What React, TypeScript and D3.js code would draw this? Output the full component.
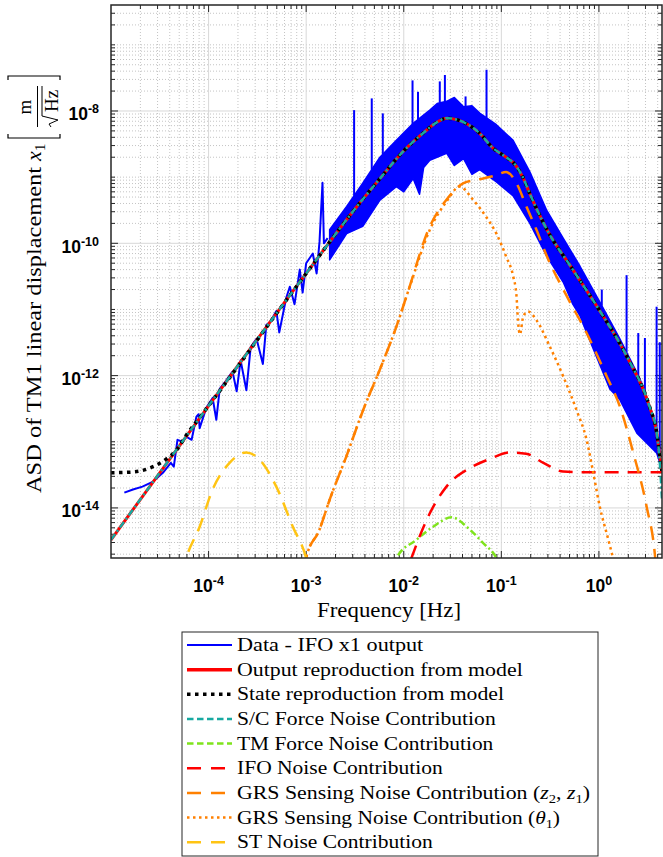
import React from 'react';
import * as d3 from 'd3';

type P = [number, number];

// ---------- axis ticks ----------
const xTickValues = [1e-4, 1e-3, 1e-2, 1e-1, 1];
const xTickExponents = ['-4', '-3', '-2', '-1', '0'];
const yTickValues = [1e-14, 1e-12, 1e-10, 1e-8];
const yTickExponents = ['-14', '-12', '-10', '-8'];

// ---------- data (frequency [Hz], ASD [m/sqrt(Hz)]) ----------
const blueLow: P[] = [
  [1.37e-5, 1.7e-14], [1.68e-5, 1.9e-14], [2.1e-5, 2.1e-14], [2.7e-5, 2.5e-14],
  [3.4e-5, 3.4e-14], [4.1e-5, 4.8e-14], [4.4e-5, 4.2e-14], [4.8e-5, 1.07e-13],
  [5.4e-5, 1.0e-13], [5.9e-5, 1.2e-13], [6.7e-5, 1.07e-13], [7.5e-5, 2.4e-13],
  [7.9e-5, 2.6e-13], [8.1e-5, 1.6e-13], [9.5e-5, 3.3e-13], [1.1e-4, 4.6e-13],
  [1.2e-4, 2.15e-13], [1.3e-4, 6.3e-13], [1.46e-4, 7.8e-13], [1.6e-4, 9.5e-13],
  [1.76e-4, 1.15e-12], [1.94e-4, 5.8e-13], [2.13e-4, 1.7e-12], [2.44e-4, 6.0e-13],
  [2.7e-4, 2.7e-12], [3.1e-4, 3.6e-12], [3.6e-4, 1.5e-12], [3.9e-4, 5.8e-12],
  [4.3e-4, 6.5e-12], [4.95e-4, 9.5e-12], [5.3e-4, 4.5e-12], [6.25e-4, 1.5e-11],
  [6.8e-4, 2.2e-11], [7.6e-4, 1.2e-11], [8.6e-4, 4.0e-11], [9.2e-4, 1.8e-11],
  [1.0e-3, 5.0e-11], [1.17e-3, 7.0e-11], [1.28e-3, 3.5e-11], [1.37e-3, 1.05e-10],
  [1.47e-3, 8.2e-10], [1.52e-3, 1.0e-10], [1.66e-3, 1.2e-10],
];
const blueBandUpper: P[] = [
  [1.74e-3, 1.6e-10], [2.6e-3, 3.6e-10], [3.8e-3, 8.1e-10], [5.7e-3, 2.0e-9],
  [8.4e-3, 3.6e-9], [1.25e-2, 6.5e-9], [1.85e-2, 1.03e-8], [2.2e-2, 1.3e-8],
  [2.75e-2, 1.4e-8], [3.3e-2, 1.6e-8], [4.1e-2, 1.16e-8], [5.0e-2, 1.2e-8],
  [6.0e-2, 9.3e-9], [8.9e-2, 6.2e-9], [0.132, 3.6e-9],
  [0.196, 1.2e-9], [0.29, 3.2e-10], [0.43, 1.2e-10], [0.64, 4.5e-11],
  [1.02, 1.3e-11], [1.64, 3.6e-12], [2.63, 9.0e-13], [3.6, 2.5e-13],
  [4.2, 6.0e-14], [4.43, 3.8e-14],
];
const blueBandLower: P[] = [
  [1.74e-3, 5.6e-11], [2.6e-3, 1.4e-10], [3.8e-3, 1.8e-10], [5.7e-3, 4.5e-10],
  [8.4e-3, 7.2e-10], [1.0e-2, 6.0e-10], [1.25e-2, 9.5e-10], [1.45e-2, 5.5e-10],
  [1.6e-2, 1.4e-9], [1.85e-2, 1.8e-9], [2.75e-2, 2.3e-9], [3.3e-2, 1.5e-9],
  [4.1e-2, 1.9e-9], [5.0e-2, 1.1e-9], [6.0e-2, 1.3e-9], [8.9e-2, 8.5e-10], [0.132, 5.2e-10],
  [0.196, 2.0e-10], [0.29, 6.5e-11], [0.34, 4.5e-11], [0.43, 2.6e-11],
  [0.54, 1.2e-11], [0.64, 8.0e-12], [0.8, 3.5e-12], [1.3, 6.2e-13],
  [1.64, 4.3e-13], [2.45, 1.35e-13], [3.1, 9.5e-14], [3.9, 6.8e-14],
  [4.43, 3.8e-14],
];
const blueSpikes: P[] = [
  [3.1e-3, 1.03e-8], [4.7e-3, 1.55e-8], [6.1e-3, 9.2e-9], [1.23e-2, 2.9e-8],
  [1.4e-2, 1.95e-8], [2.34e-2, 2.8e-8], [2.64e-2, 3.5e-8], [4.3e-2, 1.66e-8],
  [7.05e-2, 4.2e-8], [1.07, 2.0e-11], [1.92, 3.3e-11], [2.53, 4.4e-12],
  [2.96, 3.7e-12], [3.9, 1.1e-11], [4.2, 3.2e-12],
];

const modelCore: P[] = [
  [1e-4, 3.5e-13], [1e-3, 3.5e-11], [3.16e-3, 3.3e-10], [5.7e-3, 9.5e-10],
  [1e-2, 2.5e-9], [1.6e-2, 4.7e-9], [2.2e-2, 6.8e-9], [2.75e-2, 7.8e-9],
  [3.5e-2, 7.4e-9], [4.5e-2, 6.3e-9], [6e-2, 4.6e-9], [8.2e-2, 2.75e-9],
  [0.112, 2.0e-9], [0.138, 1.55e-9], [0.166, 1.0e-9], [0.196, 5.6e-10],
  [0.29, 1.66e-10], [0.54, 4.0e-11], [1.0, 1.0e-11], [1.95, 1.9e-12],
  [3.3, 3.4e-13], [3.9, 1.4e-13],
];
const outputLow: P[] = [[1e-5, 3.3e-15]];
const outputHigh: P[] = [[4.2, 6.1e-14], [4.43, 3.5e-14]];
const stateLow: P[] = [
  [1e-5, 3.4e-14], [1.7e-5, 3.5e-14], [2.7e-5, 4.2e-14], [3.7e-5, 5.5e-14],
  [4.7e-5, 7.5e-14], [6e-5, 1.3e-13], [7.5e-5, 2.0e-13],
];
const scForceHigh: P[] = [[4.2, 5.0e-14], [4.43, 1.3e-14]];

const tmForce: P[] = [
  [7.5e-3, 1.2e-15], [8.4e-3, 1.75e-15], [1.35e-2, 3.3e-15], [2.0e-2, 5.2e-15],
  [3.1e-2, 7.2e-15], [4.75e-2, 4.7e-15], [6.5e-2, 2.95e-15], [8.9e-2, 1.75e-15],
  [0.1, 1.2e-15],
];
const ifoNoise: P[] = [
  [1.0e-2, 8e-16], [1.2e-2, 1.75e-15], [1.85e-2, 8.3e-15], [2.74e-2, 2.1e-14],
  [4.75e-2, 4.0e-14], [7.6e-2, 5.5e-14], [0.122, 6.9e-14], [0.18, 6.6e-14],
  [0.27, 4.8e-14], [0.43, 3.55e-14], [0.7, 3.45e-14], [4.43, 3.45e-14],
];
const grsZ: P[] = [
  [9.5e-4, 1.2e-15], [1.0e-3, 1.75e-15], [1.37e-3, 4.7e-15], [1.74e-3, 1.33e-14],
  [2.58e-3, 6.0e-14], [3.83e-3, 3.0e-13], [5.68e-3, 1.23e-12], [8.4e-3, 5.5e-12],
  [1.07e-2, 1.6e-11], [1.85e-2, 1.8e-10], [2.75e-2, 4.6e-10], [4.1e-2, 8.1e-10],
  [5.6e-2, 9.1e-10], [8.9e-2, 1.07e-9], [0.112, 1.2e-9], [0.143, 8.1e-10],
  [0.182, 3.5e-10], [0.229, 1.6e-10], [0.29, 6.6e-11], [0.467, 1.6e-11],
  [0.748, 4.4e-12], [1.2, 9.8e-13], [1.64, 3.4e-13], [2.25, 6.8e-14],
  [3.08, 1.05e-14], [3.76, 1.86e-15], [3.9, 1.0e-15],
];
const grsTheta: P[] = [
  [9.5e-4, 1.2e-15], [1.0e-3, 1.75e-15], [1.37e-3, 4.7e-15], [1.74e-3, 1.33e-14],
  [2.58e-3, 6.0e-14], [3.83e-3, 3.0e-13], [5.68e-3, 1.23e-12], [8.4e-3, 5.5e-12],
  [1.15e-2, 2.2e-11], [1.85e-2, 1.6e-10], [2.75e-2, 4.3e-10], [3.75e-2, 7.2e-10],
  [5.1e-2, 4.6e-10], [7.0e-2, 2.5e-10], [8.9e-2, 1.4e-10], [0.112, 6.3e-11],
  [0.132, 3.2e-11], [0.143, 1.6e-11], [0.148, 6.9e-12], [0.155, 4.2e-12],
  [0.168, 7.9e-12], [0.188, 9.3e-12], [0.229, 6.9e-12], [0.314, 2.75e-12],
  [0.43, 9.8e-13], [0.59, 3.0e-13], [0.748, 1.07e-13], [0.875, 3.4e-14],
  [1.02, 1.05e-14], [1.25, 3.3e-15], [1.45, 1.4e-15],
];
const stNoise: P[] = [
  [5.3e-5, 1.0e-15], [5.9e-5, 1.75e-15], [8.1e-5, 5.2e-15], [1.1e-4, 1.9e-14],
  [1.64e-4, 4.8e-14], [2.44e-4, 6.9e-14], [3.33e-4, 5.4e-14], [4.94e-4, 2.1e-14],
  [7.3e-4, 5.2e-15], [1.0e-3, 1.75e-15], [1.1e-3, 1.0e-15],
];

const legendLabels = [
  'Data - IFO x1 output',
  'Output reproduction from model',
  'State reproduction from model',
  'S/C Force Noise Contribution',
  'TM Force Noise Contribution',
  'IFO Noise Contribution',
  'GRS Sensing Noise Contribution ',
  'GRS Sensing Noise Contribution ',
  'ST Noise Contribution',
];

// ---------- styling ----------
const SERIF = '"Liberation Serif", "Times New Roman", serif';
const SANS = '"Liberation Sans", Arial, Helvetica, sans-serif';
const AX = '#262626';
const C_BLUE = '#0000ff';
const C_RED = '#ff0000';
const C_CYAN = '#17a9a1';
const C_GREEN = '#7fe31c';
const C_ORANGE = '#ff8000';
const C_YELLOW = '#ffc413';

const L = 111, T = 5, R = 662, B = 558;

const styles = [
  { color: C_BLUE, width: 2, dash: '' },
  { color: C_RED, width: 3.5, dash: '' },
  { color: '#000', width: 3.5, dash: '3.5,4.5' },
  { color: C_CYAN, width: 2.5, dash: '6.5,3.5' },
  { color: C_GREEN, width: 2.5, dash: '6.5,3.5' },
  { color: C_RED, width: 2.5, dash: '14,10' },
  { color: C_ORANGE, width: 2.5, dash: '14,10' },
  { color: C_ORANGE, width: 2.5, dash: '2.5,3.5' },
  { color: C_YELLOW, width: 2.5, dash: '14,10' },
];
const legendTextEnds = [423.3, 522.7, 504, 495.7, 493.3, 442.7, 590, 560, 432.7];

function logInterp(arr: P[], f: number): number {
  for (let i = 0; i < arr.length - 1; i++) {
    const a = arr[i], b = arr[i + 1];
    if (f >= a[0] && f <= b[0]) {
      const t = (Math.log10(f) - Math.log10(a[0])) / (Math.log10(b[0]) - Math.log10(a[0]));
      return Math.pow(10, Math.log10(a[1]) + t * (Math.log10(b[1]) - Math.log10(a[1])));
    }
  }
  return arr[arr.length - 1][1];
}

export default function App() {
  const x = d3.scaleLog().domain([1e-5, 4.43]).range([L, R]);
  const y = d3.scaleLog().domain([1.75e-15, 4e-7]).range([B, T]);
  const smooth = d3.line<P>().x(d => x(d[0])).y(d => y(d[1])).curve(d3.curveMonotoneX);
  const straight = d3.line<P>().x(d => x(d[0])).y(d => y(d[1]));

  const outputModel: P[] = [...outputLow, ...modelCore, ...outputHigh];
  const stateModel: P[] = [...stateLow, ...modelCore, ...outputHigh];
  const scForce: P[] = [...outputLow, ...modelCore, ...scForceHigh];
  const bandPoly: P[] = [...blueBandUpper, ...blueBandLower.slice().reverse()];

  // grid positions
  const xMinor: number[] = [];
  for (let k = -5; k <= 0; k++) for (let m = 2; m <= 9; m++) {
    const v = m * Math.pow(10, k);
    if (v > 1e-5 && v < 4.43) xMinor.push(v);
  }
  const yMinor: number[] = [];
  for (let k = -15; k <= -7; k++) for (let m = 1; m <= 9; m++) {
    const v = m * Math.pow(10, k);
    if (v > 1.75e-15 && v < 4e-7 && !(m === 1 && k % 2 === 0)) yMinor.push(v);
  }

  const rowY = (i: number) => 645 + i * 24.65;

  return (
    <svg width={663} height={857} style={{ position: 'absolute', left: 0, top: 0, background: '#fff' }}
      xmlns="http://www.w3.org/2000/svg">
      <defs>
        <clipPath id="plotClip"><rect x={L} y={T} width={R - L} height={B - T} /></clipPath>
      </defs>
      <rect x={0} y={0} width={663} height={857} fill="#fff" />
      {/* grid */}
      <g>
        {xMinor.map((v, i) => (
          <line key={'xm' + i} x1={x(v)} x2={x(v)} y1={T} y2={B} stroke="#c4c4c4" strokeWidth={1} strokeDasharray="1,2" />
        ))}
        {yMinor.map((v, i) => (
          <line key={'ym' + i} x1={L} x2={R} y1={y(v)} y2={y(v)} stroke="#c4c4c4" strokeWidth={1} strokeDasharray="1,2" />
        ))}
        {xTickValues.map((v, i) => (
          <line key={'xM' + i} x1={x(v)} x2={x(v)} y1={T} y2={B} stroke="#d8d8d8" strokeWidth={1} />
        ))}
        {yTickValues.map((v, i) => (
          <line key={'yM' + i} x1={L} x2={R} y1={y(v)} y2={y(v)} stroke="#d8d8d8" strokeWidth={1} />
        ))}
      </g>
      {/* ticks */}
      <g stroke={AX} strokeWidth={1}>
        {xMinor.map((v, i) => (
          <g key={'xt' + i}>
            <line x1={x(v)} x2={x(v)} y1={B} y2={B - 4} />
            <line x1={x(v)} x2={x(v)} y1={T} y2={T + 4} />
          </g>
        ))}
        {xTickValues.map((v, i) => (
          <g key={'xT' + i}>
            <line x1={x(v)} x2={x(v)} y1={B} y2={B - 7} />
            <line x1={x(v)} x2={x(v)} y1={T} y2={T + 7} />
          </g>
        ))}
        {yMinor.map((v, i) => (
          <g key={'yt' + i}>
            <line x1={L} x2={L + 4} y1={y(v)} y2={y(v)} />
            <line x1={R} x2={R - 4} y1={y(v)} y2={y(v)} />
          </g>
        ))}
        {yTickValues.map((v, i) => (
          <g key={'yT' + i}>
            <line x1={L} x2={L + 7} y1={y(v)} y2={y(v)} />
            <line x1={R} x2={R - 7} y1={y(v)} y2={y(v)} />
          </g>
        ))}
      </g>
      {/* data */}
      <g clipPath="url(#plotClip)" fill="none" strokeLinejoin="round">
        <path d={straight(blueLow) || ''} stroke={C_BLUE} strokeWidth={2} />
        <path d={(straight(bandPoly) || '') + 'Z'} fill={C_BLUE} stroke={C_BLUE} strokeWidth={1.5} />
        {blueSpikes.map((s, i) => (
          <line key={'sp' + i} x1={x(s[0])} x2={x(s[0])} y1={y(logInterp(blueBandUpper, s[0]))} y2={y(s[1])}
            stroke={C_BLUE} strokeWidth={2} />
        ))}
        <path d={smooth(outputModel) || ''} stroke={C_RED} strokeWidth={3} />
        <path d={smooth(stateModel) || ''} stroke="#000" strokeWidth={3.5} strokeDasharray="3.5,4.5" />
        <path d={smooth(scForce) || ''} stroke={C_CYAN} strokeWidth={2.5} strokeDasharray="7,3,2,3" />
        <path d={smooth(tmForce) || ''} stroke={C_GREEN} strokeWidth={2.5} strokeDasharray="7,3,2,3" />
        <path d={smooth(ifoNoise) || ''} stroke={C_RED} strokeWidth={2.5} strokeDasharray="14,9" />
        <path d={smooth(grsZ) || ''} stroke={C_ORANGE} strokeWidth={2.5} strokeDasharray="14,9" />
        <path d={smooth(grsTheta) || ''} stroke={C_ORANGE} strokeWidth={2.5} strokeDasharray="2.5,3.5" />
        <path d={smooth(stNoise) || ''} stroke={C_YELLOW} strokeWidth={2.5} strokeDasharray="14,9" />
      </g>
      {/* box */}
      <rect x={L} y={T} width={R - L} height={B - T} fill="none" stroke={AX} strokeWidth={1.5} />
      {/* tick labels */}
      <g fontFamily={SANS} fontWeight="bold" fill="#000">
        {xTickValues.map((v, i) => (
          <text key={'xl' + i} x={x(v)} y={592} textAnchor="middle">
            <tspan fontSize={17.5}>10</tspan>
            <tspan fontSize={12.5} dy={-7.5}>{xTickExponents[i]}</tspan>
          </text>
        ))}
        {yTickValues.map((v, i) => (
          <text key={'yl' + i} x={99} y={y(v) + 9.5} textAnchor="end">
            <tspan fontSize={17.5}>10</tspan>
            <tspan fontSize={12.5} dy={-7}>{yTickExponents[i]}</tspan>
          </text>
        ))}
      </g>
      {/* x label */}
      <text x={389} y={617} textAnchor="middle" fontFamily={SERIF} fontSize={22} textLength={144}
        lengthAdjust="spacingAndGlyphs" fill="#000">Frequency [Hz]</text>
      {/* y label */}
      <g transform="translate(0,493) rotate(-90)" fontFamily={SERIF} fill="#000">
        <text x={0} y={41} fontSize={22} textLength={326} lengthAdjust="spacingAndGlyphs">ASD of TM1 linear displacement</text>
        <text x={332} y={41} fontSize={22} fontStyle="italic">x</text>
        <text x={342} y={45} fontSize={15}>1</text>
        <path d="M359,8 L355,8 L355,60 L359,60" fill="none" stroke="#000" strokeWidth={1.2} />
        <path d="M413,8 L417,8 L417,60 L413,60" fill="none" stroke="#000" strokeWidth={1.2} />
        <text x={386} y={31} fontSize={19} textAnchor="middle">m</text>
        <line x1={366} x2={407} y1={37.5} y2={37.5} stroke="#000" strokeWidth={1} />
        <path d="M366,51 L369,49 L373,58 L377,42 L407,42" fill="none" stroke="#000" strokeWidth={1} />
        <text x={392} y={58} fontSize={19} textAnchor="middle">Hz</text>
      </g>
      {/* legend */}
      <rect x={182} y={632} width={416} height={224} fill="#fff" stroke={AX} strokeWidth={1} />
      {legendLabels.map((lab, i) => {
        const s = styles[i];
        const cy = rowY(i);
        return (
          <g key={'lg' + i}>
            <line x1={187} x2={232} y1={cy} y2={cy} stroke={s.color} strokeWidth={s.width}
              strokeDasharray={s.dash || undefined} />
            <text x={237} y={cy + 6} fontFamily={SERIF} fontSize={18} fill="#000"
              textLength={legendTextEnds[i] - 237} lengthAdjust="spacingAndGlyphs">
              {lab}
              {i === 6 && (
                <>
                  <tspan>(</tspan><tspan fontStyle="italic">z</tspan>
                  <tspan fontSize={12} dy={4}>2</tspan><tspan dy={-4}>, </tspan>
                  <tspan fontStyle="italic">z</tspan><tspan fontSize={12} dy={4}>1</tspan>
                  <tspan dy={-4}>)</tspan>
                </>
              )}
              {i === 7 && (
                <>
                  <tspan>(</tspan><tspan fontStyle="italic">θ</tspan>
                  <tspan fontSize={12} dy={4}>1</tspan><tspan dy={-4}>)</tspan>
                </>
              )}
            </text>
          </g>
        );
      })}
    </svg>
  );
}
